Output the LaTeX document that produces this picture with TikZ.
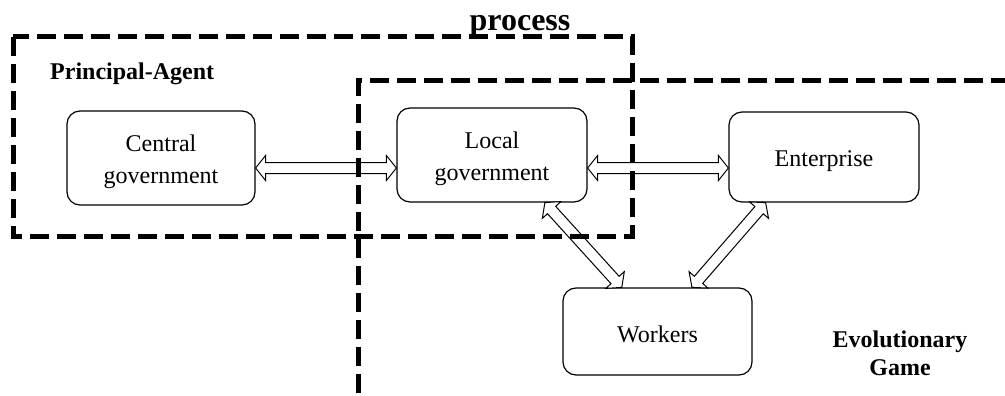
\documentclass[tikz,border=0pt]{standalone}
\usepackage{fontspec}
\setmainfont{Liberation Serif}
\usetikzlibrary{calc}
\newcommand\blockarrow[2]{%
  \coordinate (ha) at ($(#1)!10pt!(#2)$);
  \coordinate (hb) at ($(#2)!10pt!(#1)$);
  \draw[arrowline] (#1) -- ($(ha)!12.5pt!90:(#2)$) -- ($(ha)!5.5pt!90:(#2)$)
    -- ($(hb)!5.5pt!-90:(#1)$) -- ($(hb)!12.5pt!-90:(#1)$) -- (#2)
    -- ($(hb)!12.5pt!90:(#1)$) -- ($(hb)!5.5pt!90:(#1)$)
    -- ($(ha)!5.5pt!-90:(#2)$) -- ($(ha)!12.5pt!-90:(#2)$) -- cycle;}
\begin{document}
\begin{tikzpicture}[x=1pt,y=-1pt,
  box/.style={draw, line width=1.2pt, rounded corners=13pt, inner sep=0pt},
  boxtext/.style={font=\fontsize{24}{32}\selectfont, align=center, inner sep=0pt, yshift=-4pt},
  lbl/.style={font=\bfseries\fontsize{24}{28}\selectfont, inner sep=0pt},
  arrowline/.style={draw, fill=white, line width=1pt, line join=miter},
  dashline/.style={line width=5pt, dash pattern=on 19pt off 8pt}]
\useasboundingbox (0,0) rectangle (1005,396);
\clip (0,0) rectangle (1005,396);
% boxes
\node[box, minimum width=188pt, minimum height=94pt, label={[boxtext]center:Central\\government}] (central) at (161,158) {};
\node[box, minimum width=190pt, minimum height=94pt, label={[boxtext]center:Local\\government}] (local) at (492,155) {};
\node[box, minimum width=190pt, minimum height=90pt, label={[boxtext]center:Enterprise}] (enterprise) at (824,157) {};
\node[box, minimum width=189pt, minimum height=87pt, label={[boxtext, yshift=1.5pt]center:Workers}] (workers) at (657.5,331.5) {};
% connector end points on the boxes
\coordinate (row) at (0,168);
\coordinate (ce) at (central.east |- row);
\coordinate (lw) at (local.west |- row);
\coordinate (le) at (local.east |- row);
\coordinate (ew) at (enterprise.west |- row);
\coordinate (ls) at (local.-42.7);
\coordinate (wl) at (workers.129);
\coordinate (es) at (enterprise.218.3);
\coordinate (wr) at (workers.52);
% connectors
\blockarrow{ce}{lw}
\blockarrow{le}{ew}
\blockarrow{ls}{wl}
\blockarrow{es}{wr}
% dashed regions
\draw[dashline] (13,37) rectangle (632,236);
\draw[dashline] (1010,81) -- (358,81) -- (358,400);
% labels
\node[lbl, anchor=base west] (pa) at (50,80) {Principal-Agent};
\node[lbl, anchor=north, align=center] (eg) at (900,331) {Evolutionary\\Game};
\node[font=\bfseries\fontsize{32}{38}\selectfont, inner sep=0pt, anchor=base] (proc) at (520,31) {process};
\end{tikzpicture}
\end{document}
